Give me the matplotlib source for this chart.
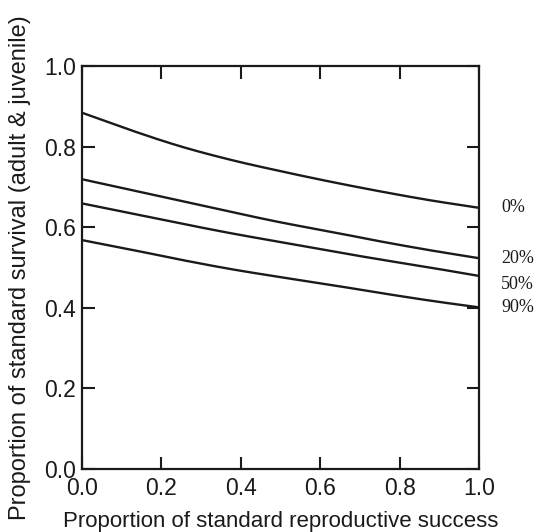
import numpy as np
import matplotlib
matplotlib.use("Agg")
import matplotlib.pyplot as plt

# Proportion of standard reproductive success (x) and survival curves (y)
repro = [0.0, 0.125, 0.25, 0.375, 0.5, 0.625, 0.75, 0.875, 1.0]
surv_0 = [0.884, 0.840, 0.800, 0.767, 0.739, 0.713, 0.689, 0.667, 0.648]
surv_20 = [0.719, 0.692, 0.665, 0.638, 0.612, 0.589, 0.565, 0.543, 0.523]
surv_50 = [0.659, 0.634, 0.609, 0.585, 0.563, 0.541, 0.520, 0.500, 0.479]
surv_90 = [0.568, 0.544, 0.519, 0.496, 0.476, 0.457, 0.437, 0.418, 0.401]
curve_labels = ["0%", "20%", "50%", "90%"]
label_y = [0.650, 0.522, 0.458, 0.400]

ticks = [0.0, 0.2, 0.4, 0.6, 0.8, 1.0]
tick_labels = ["0.0", "0.2", "0.4", "0.6", "0.8", "1.0"]


def smooth(x, y, n=200):
    """Cubic Hermite curve through the points (finite-difference slopes)."""
    x = np.asarray(x, float)
    y = np.asarray(y, float)
    m = np.gradient(y, x)
    xs = np.linspace(x[0], x[-1], n)
    idx = np.clip(np.searchsorted(x, xs, side="right") - 1, 0, len(x) - 2)
    h = x[idx + 1] - x[idx]
    t = (xs - x[idx]) / h
    h00 = 2 * t**3 - 3 * t**2 + 1
    h10 = t**3 - 2 * t**2 + t
    h01 = -2 * t**3 + 3 * t**2
    h11 = t**3 - t**2
    ys = h00 * y[idx] + h10 * h * m[idx] + h01 * y[idx + 1] + h11 * h * m[idx + 1]
    return xs, ys


plt.rcParams["font.family"] = ["Liberation Sans", "DejaVu Sans"]

fig = plt.figure(figsize=(5.39, 5.32), dpi=100)
ax = fig.add_axes([0.152, 0.1184, 0.737, 0.7576])

ink = "#1a1a1a"
for ys in (surv_0, surv_20, surv_50, surv_90):
    sx, sy = smooth(repro, ys)
    ax.plot(sx, sy, color=ink, lw=1.7, solid_capstyle="butt")

for lab, yv in zip(curve_labels, label_y):
    ax.text(1.055, yv, lab, ha="left", va="center",
            fontsize=13, family=["Liberation Serif", "DejaVu Serif"],
            color=ink, clip_on=False)

ax.set_xlim(0, 1)
ax.set_ylim(0, 1)
ax.set_xticks(ticks)
ax.set_xticklabels(tick_labels)
ax.set_yticks(ticks)
ax.set_yticklabels(tick_labels)
ax.tick_params(direction="in", length=9, width=1.5, labelsize=16.5,
               top=True, right=True, colors=ink)
ax.tick_params(axis="x", pad=6)
ax.tick_params(axis="y", pad=4)
for sp in ax.spines.values():
    sp.set_linewidth(1.6)
    sp.set_color(ink)

ax.set_xlabel("Proportion of standard reproductive success", fontsize=16,
              color=ink)
ax.xaxis.set_label_coords(0.5, 0.0, transform=fig.transFigure)
ax.xaxis.label.set_verticalalignment("bottom")
ax.xaxis.label.set_x(0.5205)
ax.set_ylabel("Proportion of standard survival (adult & juvenile)", fontsize=17,
              labelpad=10, color=ink)

fig.savefig("out.png", dpi=100)
